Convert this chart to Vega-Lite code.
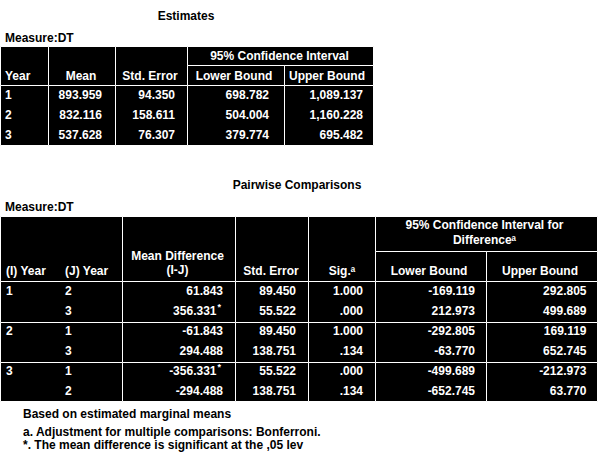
{
  "$schema": "https://vega.github.io/schema/vega-lite/v6.json",
  "width": 599,
  "height": 460,
  "padding": 0,
  "autosize": "none",
  "background": "white",
  "config": {"view": {"stroke": null}},
  "datasets": {
    "cols": [
      {"c": "1_all", "cx": 186, "lx": 5},
      {"c": "1_year", "x0": 0.5, "x1": 48.5, "lx": 5},
      {"c": "1_mean", "x0": 48.5, "x1": 115.5, "cx": 81, "rx": 102},
      {"c": "1_se", "x0": 115.5, "x1": 187.5, "cx": 150, "rx": 175},
      {"c": "1_ci", "x0": 187.5, "x1": 373.5, "cx": 279.5},
      {"c": "1_lo", "x0": 187.5, "x1": 284.5, "cx": 234, "rx": 269},
      {"c": "1_up", "x0": 284.5, "x1": 373.5, "cx": 327, "rx": 363},
      {"c": "2_all", "cx": 297, "lx": 5},
      {"c": "2_foot", "lx": 23},
      {"c": "2_ij", "x0": 0.5, "x1": 122.5},
      {"c": "2_i", "lx": 6},
      {"c": "2_j", "lx": 65},
      {"c": "2_md", "x0": 122.5, "x1": 235.5, "cx": 177.5, "rx": 223},
      {"c": "2_se", "x0": 235.5, "x1": 308.5, "cx": 271, "rx": 296},
      {"c": "2_sig", "x0": 308.5, "x1": 375.5, "cx": 342, "rx": 363},
      {"c": "2_ci", "x0": 375.5, "x1": 597.5, "cx": 484.5},
      {"c": "2_lo", "x0": 375.5, "x1": 486.5, "cx": 429, "rx": 475},
      {"c": "2_up", "x0": 486.5, "x1": 597.5, "cx": 540, "rx": 586.5}
    ],
    "rows": [
      {"r": "1_title", "cy": 16},
      {"r": "1_meas", "cy": 38},
      {"r": "1_h", "y0": 46.5, "y1": 85.5},
      {"r": "1_hci", "y0": 46.5, "y1": 65.5, "cy": 56},
      {"r": "1_hsub", "y0": 65.5, "y1": 85.5},
      {"r": "1_hb", "cy": 76},
      {"r": "1_body", "y0": 85.5, "y1": 145.5},
      {"r": "1_r1", "cy": 95},
      {"r": "1_r2", "cy": 115},
      {"r": "1_r3", "cy": 134.5},
      {"r": "2_title", "cy": 185},
      {"r": "2_meas", "cy": 207},
      {"r": "2_h", "y0": 216.5, "y1": 281.5},
      {"r": "2_hci", "y0": 216.5, "y1": 251.5},
      {"r": "2_hsub", "y0": 251.5, "y1": 281.5},
      {"r": "2_ci1", "cy": 225},
      {"r": "2_ci2", "cy": 240},
      {"r": "2_md1", "cy": 256},
      {"r": "2_md2", "cy": 269.5},
      {"r": "2_hb", "cy": 271},
      {"r": "2_g1", "y0": 281.5, "y1": 322.5},
      {"r": "2_g2", "y0": 322.5, "y1": 362.5},
      {"r": "2_g3", "y0": 362.5, "y1": 401.5},
      {"r": "2_r1", "cy": 291},
      {"r": "2_r2", "cy": 311},
      {"r": "2_r3", "cy": 331},
      {"r": "2_r4", "cy": 351},
      {"r": "2_r5", "cy": 371},
      {"r": "2_r6", "cy": 390.5},
      {"r": "2_f1", "cy": 414},
      {"r": "2_f2", "cy": 432},
      {"r": "2_f3", "cy": 445}
    ],
    "blocks": [
      {"c": "1_year", "r": "1_h"},
      {"c": "1_mean", "r": "1_h"},
      {"c": "1_se", "r": "1_h"},
      {"c": "1_ci", "r": "1_hci"},
      {"c": "1_lo", "r": "1_hsub"},
      {"c": "1_up", "r": "1_hsub"},
      {"c": "1_year", "r": "1_body"},
      {"c": "1_mean", "r": "1_body"},
      {"c": "1_se", "r": "1_body"},
      {"c": "1_lo", "r": "1_body"},
      {"c": "1_up", "r": "1_body"},
      {"c": "2_ij", "r": "2_h"},
      {"c": "2_md", "r": "2_h"},
      {"c": "2_se", "r": "2_h"},
      {"c": "2_sig", "r": "2_h"},
      {"c": "2_ci", "r": "2_hci"},
      {"c": "2_lo", "r": "2_hsub"},
      {"c": "2_up", "r": "2_hsub"},
      {"c": "2_ij", "r": "2_g1"},
      {"c": "2_md", "r": "2_g1"},
      {"c": "2_se", "r": "2_g1"},
      {"c": "2_sig", "r": "2_g1"},
      {"c": "2_lo", "r": "2_g1"},
      {"c": "2_up", "r": "2_g1"},
      {"c": "2_ij", "r": "2_g2"},
      {"c": "2_md", "r": "2_g2"},
      {"c": "2_se", "r": "2_g2"},
      {"c": "2_sig", "r": "2_g2"},
      {"c": "2_lo", "r": "2_g2"},
      {"c": "2_up", "r": "2_g2"},
      {"c": "2_ij", "r": "2_g3"},
      {"c": "2_md", "r": "2_g3"},
      {"c": "2_se", "r": "2_g3"},
      {"c": "2_sig", "r": "2_g3"},
      {"c": "2_lo", "r": "2_g3"},
      {"c": "2_up", "r": "2_g3"}
    ],
    "cells": [
      {"c": "1_all", "r": "1_title", "t": "Estimates", "k": "t"},
      {"c": "1_all", "r": "1_meas", "t": "Measure:DT", "k": "f"},
      {"c": "1_year", "r": "1_hb", "t": "Year", "k": "l"},
      {"c": "1_mean", "r": "1_hb", "t": "Mean", "k": "h"},
      {"c": "1_se", "r": "1_hb", "t": "Std. Error", "k": "h"},
      {"c": "1_ci", "r": "1_hci", "t": "95% Confidence Interval", "k": "h"},
      {"c": "1_lo", "r": "1_hb", "t": "Lower Bound", "k": "h"},
      {"c": "1_up", "r": "1_hb", "t": "Upper Bound", "k": "h"},
      {"c": "1_year", "r": "1_r1", "t": "1", "k": "l"},
      {"c": "1_mean", "r": "1_r1", "t": "893.959", "k": "n"},
      {"c": "1_se", "r": "1_r1", "t": "94.350", "k": "n"},
      {"c": "1_lo", "r": "1_r1", "t": "698.782", "k": "n"},
      {"c": "1_up", "r": "1_r1", "t": "1,089.137", "k": "n"},
      {"c": "1_year", "r": "1_r2", "t": "2", "k": "l"},
      {"c": "1_mean", "r": "1_r2", "t": "832.116", "k": "n"},
      {"c": "1_se", "r": "1_r2", "t": "158.611", "k": "n"},
      {"c": "1_lo", "r": "1_r2", "t": "504.004", "k": "n"},
      {"c": "1_up", "r": "1_r2", "t": "1,160.228", "k": "n"},
      {"c": "1_year", "r": "1_r3", "t": "3", "k": "l"},
      {"c": "1_mean", "r": "1_r3", "t": "537.628", "k": "n"},
      {"c": "1_se", "r": "1_r3", "t": "76.307", "k": "n"},
      {"c": "1_lo", "r": "1_r3", "t": "379.774", "k": "n"},
      {"c": "1_up", "r": "1_r3", "t": "695.482", "k": "n"},
      {"c": "2_all", "r": "2_title", "t": "Pairwise Comparisons", "k": "t"},
      {"c": "2_all", "r": "2_meas", "t": "Measure:DT", "k": "f"},
      {"c": "2_i", "r": "2_hb", "t": "(I) Year", "k": "l"},
      {"c": "2_j", "r": "2_hb", "t": "(J) Year", "k": "l"},
      {"c": "2_md", "r": "2_md1", "t": "Mean Difference", "k": "h"},
      {"c": "2_md", "r": "2_md2", "t": "(I-J)", "k": "h"},
      {"c": "2_se", "r": "2_hb", "t": "Std. Error", "k": "h"},
      {"c": "2_sig", "r": "2_hb", "t": "Sig.ᵃ", "k": "h"},
      {"c": "2_ci", "r": "2_ci1", "t": "95% Confidence Interval for", "k": "h"},
      {"c": "2_ci", "r": "2_ci2", "t": "Differenceᵃ", "k": "h"},
      {"c": "2_lo", "r": "2_hb", "t": "Lower Bound", "k": "h"},
      {"c": "2_up", "r": "2_hb", "t": "Upper Bound", "k": "h"},
      {"c": "2_i", "r": "2_r1", "t": "1", "k": "l"},
      {"c": "2_j", "r": "2_r1", "t": "2", "k": "l"},
      {"c": "2_md", "r": "2_r1", "t": "61.843", "k": "n"},
      {"c": "2_se", "r": "2_r1", "t": "89.450", "k": "n"},
      {"c": "2_sig", "r": "2_r1", "t": "1.000", "k": "n"},
      {"c": "2_lo", "r": "2_r1", "t": "-169.119", "k": "n"},
      {"c": "2_up", "r": "2_r1", "t": "292.805", "k": "n"},
      {"c": "2_j", "r": "2_r2", "t": "3", "k": "l"},
      {"c": "2_md", "r": "2_r2", "t": "356.331", "k": "n", "s": "*"},
      {"c": "2_se", "r": "2_r2", "t": "55.522", "k": "n"},
      {"c": "2_sig", "r": "2_r2", "t": ".000", "k": "n"},
      {"c": "2_lo", "r": "2_r2", "t": "212.973", "k": "n"},
      {"c": "2_up", "r": "2_r2", "t": "499.689", "k": "n"},
      {"c": "2_i", "r": "2_r3", "t": "2", "k": "l"},
      {"c": "2_j", "r": "2_r3", "t": "1", "k": "l"},
      {"c": "2_md", "r": "2_r3", "t": "-61.843", "k": "n"},
      {"c": "2_se", "r": "2_r3", "t": "89.450", "k": "n"},
      {"c": "2_sig", "r": "2_r3", "t": "1.000", "k": "n"},
      {"c": "2_lo", "r": "2_r3", "t": "-292.805", "k": "n"},
      {"c": "2_up", "r": "2_r3", "t": "169.119", "k": "n"},
      {"c": "2_j", "r": "2_r4", "t": "3", "k": "l"},
      {"c": "2_md", "r": "2_r4", "t": "294.488", "k": "n"},
      {"c": "2_se", "r": "2_r4", "t": "138.751", "k": "n"},
      {"c": "2_sig", "r": "2_r4", "t": ".134", "k": "n"},
      {"c": "2_lo", "r": "2_r4", "t": "-63.770", "k": "n"},
      {"c": "2_up", "r": "2_r4", "t": "652.745", "k": "n"},
      {"c": "2_i", "r": "2_r5", "t": "3", "k": "l"},
      {"c": "2_j", "r": "2_r5", "t": "1", "k": "l"},
      {"c": "2_md", "r": "2_r5", "t": "-356.331", "k": "n", "s": "*"},
      {"c": "2_se", "r": "2_r5", "t": "55.522", "k": "n"},
      {"c": "2_sig", "r": "2_r5", "t": ".000", "k": "n"},
      {"c": "2_lo", "r": "2_r5", "t": "-499.689", "k": "n"},
      {"c": "2_up", "r": "2_r5", "t": "-212.973", "k": "n"},
      {"c": "2_j", "r": "2_r6", "t": "2", "k": "l"},
      {"c": "2_md", "r": "2_r6", "t": "-294.488", "k": "n"},
      {"c": "2_se", "r": "2_r6", "t": "138.751", "k": "n"},
      {"c": "2_sig", "r": "2_r6", "t": ".134", "k": "n"},
      {"c": "2_lo", "r": "2_r6", "t": "-652.745", "k": "n"},
      {"c": "2_up", "r": "2_r6", "t": "63.770", "k": "n"},
      {"c": "2_foot", "r": "2_f1", "t": "Based on estimated marginal means", "k": "f"},
      {"c": "2_foot", "r": "2_f2", "t": "a. Adjustment for multiple comparisons: Bonferroni.", "k": "f"},
      {"c": "2_foot", "r": "2_f3", "t": "*. The mean difference is significant at the ,05 lev", "k": "f"}
    ]
  },
  "encoding": {
    "x": {"field": "x", "type": "quantitative", "axis": null,
          "scale": {"domain": [0, 599], "nice": false, "zero": false}},
    "y": {"field": "y", "type": "quantitative", "axis": null,
          "scale": {"domain": [0, 460], "reverse": true, "nice": false, "zero": false}}
  },
  "layer": [
    {
      "data": {"name": "blocks"},
      "transform": [
        {"lookup": "c", "from": {"data": {"name": "cols"}, "key": "c", "fields": ["x0", "x1"]}, "as": ["x", "xe"]},
        {"lookup": "r", "from": {"data": {"name": "rows"}, "key": "r", "fields": ["y0", "y1"]}, "as": ["y", "ye"]}
      ],
      "mark": {"type": "rect", "fill": "black", "stroke": "white", "strokeWidth": 1},
      "encoding": {"x2": {"field": "xe"}, "y2": {"field": "ye"}}
    },
    {
      "data": {"name": "cells"},
      "transform": [
        {"filter": "datum.k == 'h'"},
        {"lookup": "c", "from": {"data": {"name": "cols"}, "key": "c", "fields": ["cx"]}, "as": ["x"]},
        {"lookup": "r", "from": {"data": {"name": "rows"}, "key": "r", "fields": ["cy"]}, "as": ["y"]}
      ],
      "mark": {"type": "text", "align": "center", "baseline": "middle", "font": "Liberation Sans", "fontWeight": "bold", "fontSize": 12, "fill": "white"},
      "encoding": {"text": {"field": "t"}}
    },
    {
      "data": {"name": "cells"},
      "transform": [
        {"filter": "datum.k == 'l'"},
        {"lookup": "c", "from": {"data": {"name": "cols"}, "key": "c", "fields": ["lx"]}, "as": ["x"]},
        {"lookup": "r", "from": {"data": {"name": "rows"}, "key": "r", "fields": ["cy"]}, "as": ["y"]}
      ],
      "mark": {"type": "text", "align": "left", "baseline": "middle", "font": "Liberation Sans", "fontWeight": "bold", "fontSize": 12, "fill": "white"},
      "encoding": {"text": {"field": "t"}}
    },
    {
      "data": {"name": "cells"},
      "transform": [
        {"filter": "datum.k == 'n' && !datum.s"},
        {"lookup": "c", "from": {"data": {"name": "cols"}, "key": "c", "fields": ["rx"]}, "as": ["x"]},
        {"lookup": "r", "from": {"data": {"name": "rows"}, "key": "r", "fields": ["cy"]}, "as": ["y"]}
      ],
      "mark": {"type": "text", "align": "right", "baseline": "middle", "font": "Liberation Sans", "fontWeight": "bold", "fontSize": 12, "fill": "white"},
      "encoding": {"text": {"field": "t"}}
    },
    {
      "data": {"name": "cells"},
      "transform": [
        {"filter": "datum.k == 'n' && datum.s"},
        {"lookup": "c", "from": {"data": {"name": "cols"}, "key": "c", "fields": ["rx"]}, "as": ["x"]},
        {"lookup": "r", "from": {"data": {"name": "rows"}, "key": "r", "fields": ["cy"]}, "as": ["y"]}
      ],
      "mark": {"type": "text", "align": "right", "baseline": "middle", "dx": -6.5, "font": "Liberation Sans", "fontWeight": "bold", "fontSize": 12, "fill": "white"},
      "encoding": {"text": {"field": "t"}}
    },
    {
      "data": {"name": "cells"},
      "transform": [
        {"filter": "datum.k == 'n' && datum.s"},
        {"lookup": "c", "from": {"data": {"name": "cols"}, "key": "c", "fields": ["rx"]}, "as": ["x"]},
        {"lookup": "r", "from": {"data": {"name": "rows"}, "key": "r", "fields": ["cy"]}, "as": ["y"]}
      ],
      "mark": {"type": "text", "align": "left", "baseline": "middle", "dx": -5.5, "dy": -4, "font": "Liberation Sans", "fontWeight": "bold", "fontSize": 9, "fill": "white"},
      "encoding": {"text": {"field": "s"}}
    },
    {
      "data": {"name": "cells"},
      "transform": [
        {"filter": "datum.k == 't'"},
        {"lookup": "c", "from": {"data": {"name": "cols"}, "key": "c", "fields": ["cx"]}, "as": ["x"]},
        {"lookup": "r", "from": {"data": {"name": "rows"}, "key": "r", "fields": ["cy"]}, "as": ["y"]}
      ],
      "mark": {"type": "text", "align": "center", "baseline": "middle", "font": "Liberation Sans", "fontWeight": "bold", "fontSize": 12, "fill": "black"},
      "encoding": {"text": {"field": "t"}}
    },
    {
      "data": {"name": "cells"},
      "transform": [
        {"filter": "datum.k == 'f'"},
        {"lookup": "c", "from": {"data": {"name": "cols"}, "key": "c", "fields": ["lx"]}, "as": ["x"]},
        {"lookup": "r", "from": {"data": {"name": "rows"}, "key": "r", "fields": ["cy"]}, "as": ["y"]}
      ],
      "mark": {"type": "text", "align": "left", "baseline": "middle", "font": "Liberation Sans", "fontWeight": "bold", "fontSize": 12, "fill": "black"},
      "encoding": {"text": {"field": "t"}}
    }
  ]
}
